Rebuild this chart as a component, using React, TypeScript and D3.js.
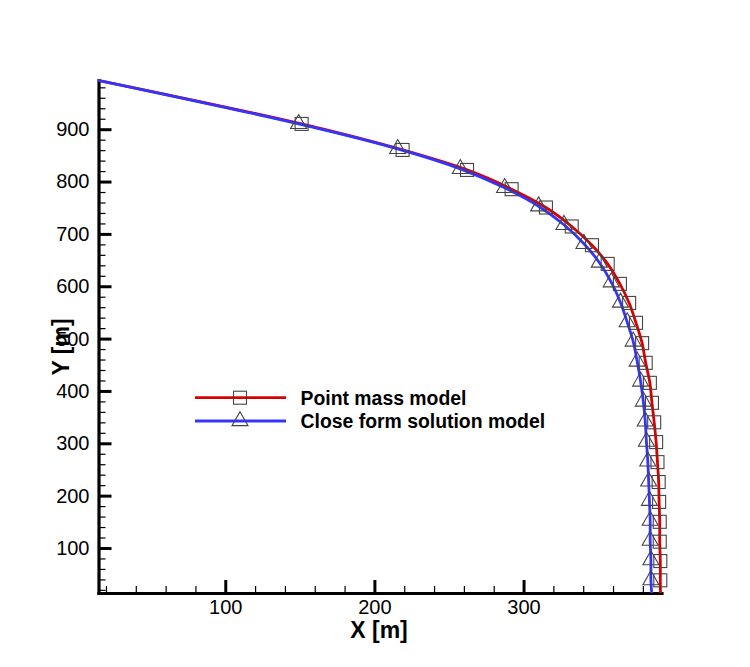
import React, { useEffect, useRef } from 'react';
import * as d3 from 'd3';

// trajectory samples, x and altitude in metres
const pointMassX = [14.7, 151.2, 218.9, 262.1, 292.0, 315.0, 332.3, 345.9, 356.4, 364.6, 370.8, 375.4, 379.5, 381.9, 384.7, 386.1, 387.6, 388.9, 389.8, 390.6, 390.9, 391.3, 391.3, 391.7, 391.7, 391.8];
const pointMassY = [993.5, 910.1, 860.4, 822.2, 785.4, 750.4, 714.2, 678.4, 642.7, 604.5, 568.1, 530.1, 491.3, 453.7, 415.5, 377.3, 340.1, 302.3, 264.0, 226.0, 188.0, 150.0, 112.0, 75.0, 38.2, 14];

const closeFormX = [14.7, 149.2, 215.6, 257.6, 287.3, 310.1, 327.1, 340.5, 350.8, 358.8, 365.0, 369.5, 373.5, 376.2, 378.5, 380.3, 381.6, 382.4, 383.3, 383.9, 384.4, 384.9, 384.9, 385.4, 385.4, 385.9];
const closeFormY = [993.5, 910.2, 862.5, 824.3, 788.0, 752.9, 717.4, 681.1, 645.4, 607.8, 569.0, 531.4, 494.6, 456.4, 418.2, 380.0, 341.8, 303.2, 265.4, 227.2, 190.4, 152.2, 114.0, 77.0, 38.8, 14];

const xTicks = [100, 200, 300];
const yTicks = [100, 200, 300, 400, 500, 600, 700, 800, 900];
const xDomain = [15, 392.5];
const yDomain = [14, 994];

const seriesNames = ['Point mass model', 'Close form solution model'];
const xTitle = 'X [m]';
const yTitle = 'Y [m]';

const width = 750;
const height = 667;
const plot = { left: 98.5, right: 661.5, top: 80, bottom: 593 };
const font = '"Liberation Sans", Arial, sans-serif';
const red = '#d80000';
const blue = '#3434ff';
const markerStroke = '#444';

// triangle path with its centroid on (0,0)
const triangle = (w: number, h: number) =>
  `M0,${-(2 * h) / 3}L${w / 2},${h / 3}L${-w / 2},${h / 3}Z`;

export default function App() {
  const ref = useRef<SVGSVGElement>(null);

  useEffect(() => {
    const svg = d3.select(ref.current);
    svg.selectAll('*').remove();

    const x = d3.scaleLinear().domain(xDomain).range([plot.left, plot.right]);
    const y = d3.scaleLinear().domain(yDomain).range([plot.bottom, plot.top]);

    // minor ticks, every 20 m, pointing into the plot
    const xMinor = d3.range(20, 400, 20).filter((v) => v >= xDomain[0] && v <= xDomain[1] && !xTicks.includes(v));
    const yMinor = d3.range(20, 1000, 20).filter((v) => v >= yDomain[0] && v <= yDomain[1] && !yTicks.includes(v));

    const xMinorAxis = svg.append('g')
      .attr('transform', `translate(0,${plot.bottom})`)
      .call(d3.axisBottom(x).tickValues(xMinor).tickSize(-7).tickSizeOuter(0).tickFormat(() => ''));
    const yMinorAxis = svg.append('g')
      .attr('transform', `translate(${plot.left},0)`)
      .call(d3.axisLeft(y).tickValues(yMinor).tickSize(-7).tickSizeOuter(0).tickFormat(() => ''));
    [xMinorAxis, yMinorAxis].forEach((g) => {
      g.select('.domain').remove();
      g.selectAll('.tick line').attr('stroke', '#000').attr('stroke-width', 1.2);
    });

    // major ticks and labels
    const xAxis = svg.append('g')
      .attr('transform', `translate(0,${plot.bottom})`)
      .call(d3.axisBottom(x).tickValues(xTicks).tickSize(-13).tickSizeOuter(0).tickPadding(7));
    const yAxis = svg.append('g')
      .attr('transform', `translate(${plot.left},0)`)
      .call(d3.axisLeft(y).tickValues(yTicks).tickSize(-13).tickSizeOuter(0).tickPadding(9));
    [xAxis, yAxis].forEach((g) => {
      g.attr('font-family', font).attr('font-size', 20);
      g.select('.domain').attr('stroke', '#000').attr('stroke-width', 3.2).attr('stroke-linecap', 'square');
      g.selectAll('.tick line').attr('stroke', '#000').attr('stroke-width', 3);
      g.selectAll('.tick text').attr('fill', '#000');
    });

    // axis titles
    svg.append('text')
      .attr('x', 379)
      .attr('y', 638)
      .attr('text-anchor', 'middle')
      .attr('font-family', font)
      .attr('font-size', 23)
      .attr('font-weight', 'bold')
      .text(xTitle);
    svg.append('text')
      .attr('transform', 'translate(69,347) rotate(-90)')
      .attr('text-anchor', 'middle')
      .attr('font-family', font)
      .attr('font-size', 23)
      .attr('font-weight', 'bold')
      .text(yTitle);

    const line = d3.line<[number, number]>()
      .x((d) => x(d[0]))
      .y((d) => y(d[1]))
      .curve(d3.curveCatmullRom.alpha(0.5));

    const pointMass = pointMassX.map((v, i) => [v, pointMassY[i]] as [number, number]);
    const closeForm = closeFormX.map((v, i) => [v, closeFormY[i]] as [number, number]);

    svg.append('path')
      .attr('d', line(pointMass))
      .attr('fill', 'none')
      .attr('stroke', red)
      .attr('stroke-width', 2.8);
    svg.append('path')
      .attr('d', line(closeForm))
      .attr('fill', 'none')
      .attr('stroke', blue)
      .attr('stroke-width', 2.8);

    // symbols sit on the interior samples only
    svg.append('g')
      .selectAll('rect')
      .data(pointMass.slice(1, -1))
      .enter()
      .append('rect')
      .attr('x', (d) => x(d[0]) - 6.5)
      .attr('y', (d) => y(d[1]) - 6.5)
      .attr('width', 13)
      .attr('height', 13)
      .attr('fill', 'none')
      .attr('stroke', markerStroke)
      .attr('stroke-width', 1.1);
    svg.append('g')
      .selectAll('path')
      .data(closeForm.slice(1, -1))
      .enter()
      .append('path')
      .attr('transform', (d) => `translate(${x(d[0])},${y(d[1])})`)
      .attr('d', triangle(16, 14))
      .attr('fill', 'none')
      .attr('stroke', markerStroke)
      .attr('stroke-width', 1.1);

    // legend
    const legend = svg.append('g').attr('font-family', font).attr('font-size', 19.4).attr('font-weight', 'bold');
    const rows = [
      { name: seriesNames[0], color: red, y: 397.7, symbol: 'square' },
      { name: seriesNames[1], color: blue, y: 421, symbol: 'triangle' },
    ];
    rows.forEach((r) => {
      legend.append('line')
        .attr('x1', 195)
        .attr('x2', 286)
        .attr('y1', r.y)
        .attr('y2', r.y)
        .attr('stroke', r.color)
        .attr('stroke-width', 2.8);
      if (r.symbol === 'square') {
        legend.append('rect')
          .attr('x', 240 - 6.5)
          .attr('y', r.y - 6.5)
          .attr('width', 13)
          .attr('height', 13)
          .attr('fill', 'none')
          .attr('stroke', markerStroke)
          .attr('stroke-width', 1.1);
      } else {
        legend.append('path')
          .attr('transform', `translate(240,${r.y})`)
          .attr('d', triangle(16, 14))
          .attr('fill', 'none')
          .attr('stroke', markerStroke)
          .attr('stroke-width', 1.1);
      }
      legend.append('text')
        .attr('x', 300.5)
        .attr('y', r.y + 6.9)
        .attr('fill', '#000')
        .text(r.name);
    });
  }, []);

  return (
    <svg
      ref={ref}
      width={width}
      height={height}
      style={{ position: 'absolute', left: 0, top: 0, background: '#fff' }}
    />
  );
}
